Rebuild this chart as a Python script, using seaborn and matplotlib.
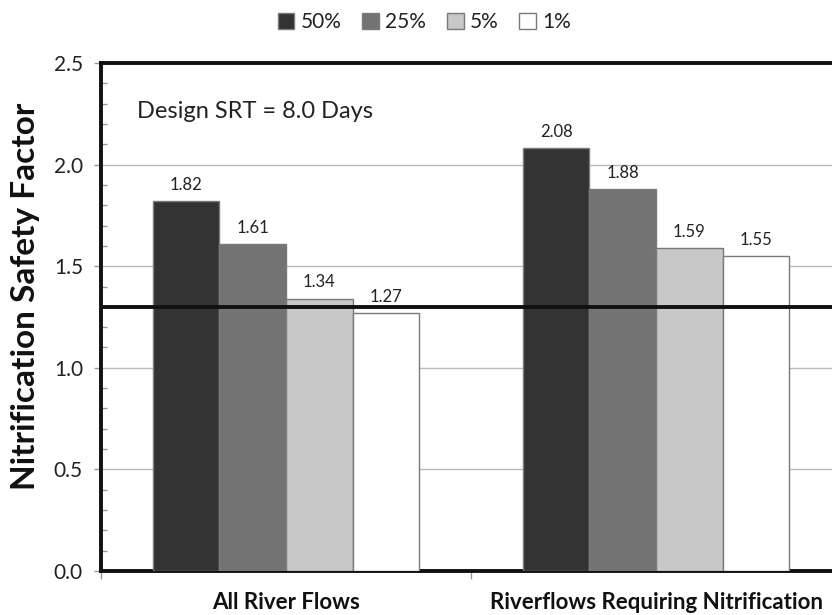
import matplotlib
matplotlib.use("Agg")
import matplotlib.pyplot as plt
import matplotlib.patches as mpatches
import seaborn as sns
import pandas as pd

# Data
categories = ["All River Flows", "Riverflows Requiring Nitrification"]
percentiles = ["50%", "25%", "5%", "1%"]
all_flows = [1.82, 1.61, 1.34, 1.27]
nitrif_flows = [2.08, 1.88, 1.59, 1.55]
target_factor = 1.3
y_ticks = [0.0, 0.5, 1.0, 1.5, 2.0, 2.5]
bar_colors = ["#333333", "#737373", "#c8c8c8", "#ffffff"]

rows = []
for cat, vals in zip(categories, [all_flows, nitrif_flows]):
    for p, v in zip(percentiles, vals):
        rows.append({"flow": cat, "percentile": p, "factor": v})
df = pd.DataFrame(rows)

sns.set_theme(style="white")
plt.rcParams["font.family"] = ["Lato", "DejaVu Sans"]

fig = plt.figure(figsize=(8.32, 6.15), dpi=100)
ax = fig.add_axes([101 / 832, 1 - 571 / 615, (841 - 101) / 832, (571 - 63) / 615])

sns.barplot(data=df, x="flow", y="factor", hue="percentile",
            order=categories, hue_order=percentiles,
            palette=bar_colors, width=0.72, ax=ax, legend=False,
            edgecolor="#7a7a7a", linewidth=1.0, saturation=1, zorder=3)

# value labels
for cont in ax.containers:
    ax.bar_label(cont, labels=[f"{v:.2f}" for v in cont.datavalues],
                 padding=6, fontsize=12, color="#222222")

ax.set_yticks(y_ticks)
ax.set_yticklabels([f"{t:.1f}" for t in y_ticks], fontsize=15, color="#222222")
ax.set_yticks([t / 10 for t in range(26) if t % 5 != 0], minor=True)
ax.set_ylim(0, 2.5)
ax.set_xlim(-0.5, 1.5)
ax.tick_params(axis="y", which="major", direction="out", length=5, width=1,
               color="#999999", pad=8, left=True)
ax.tick_params(axis="y", which="minor", direction="in", length=4, width=1,
               color="#999999", left=True)

ax.grid(axis="y", which="major", color="#bbbbbb", linewidth=1, zorder=0)
ax.set_axisbelow(True)

# category labels and boundary ticks
ax.set_xticks([-0.5, 0.5, 1.5])
ax.set_xticklabels(["", "", ""])
ax.set_xticks([0, 1], minor=True)
ax.set_xticklabels(categories, minor=True, fontsize=16, fontweight="bold",
                   color="#111111")
ax.tick_params(axis="x", which="major", direction="out", length=6, width=1,
               color="#999999", bottom=True)
ax.tick_params(axis="x", which="minor", length=0, pad=15)

ax.set_xlabel("")
ax.set_ylabel("Nitrification Safety Factor", fontsize=24, fontweight="bold",
              color="#111111")
ax.yaxis.set_label_coords(-0.083, 0.54)

for side in ["left", "top", "bottom"]:
    ax.spines[side].set_visible(True)
    ax.spines[side].set_linewidth(2.8)
    ax.spines[side].set_color("#111111")
ax.spines["right"].set_visible(False)

ax.axhline(target_factor, color="#111111", linewidth=2.8, zorder=4)

ax.text(0.048, 0.905, "Design SRT = 8.0 Days", transform=ax.transAxes,
        fontsize=17, color="#222222", va="center", ha="left")

handles = [mpatches.Patch(facecolor=c, edgecolor="#7a7a7a", label=p)
           for c, p in zip(bar_colors, percentiles)]
fig.legend(handles=handles, loc="center", bbox_to_anchor=(0.51, 0.964), ncol=4,
           frameon=False, fontsize=15, handlelength=0.8, handleheight=0.8,
           handletextpad=0.3, columnspacing=1.0, labelcolor="#222222")

fig.savefig("out.png", dpi=100)
